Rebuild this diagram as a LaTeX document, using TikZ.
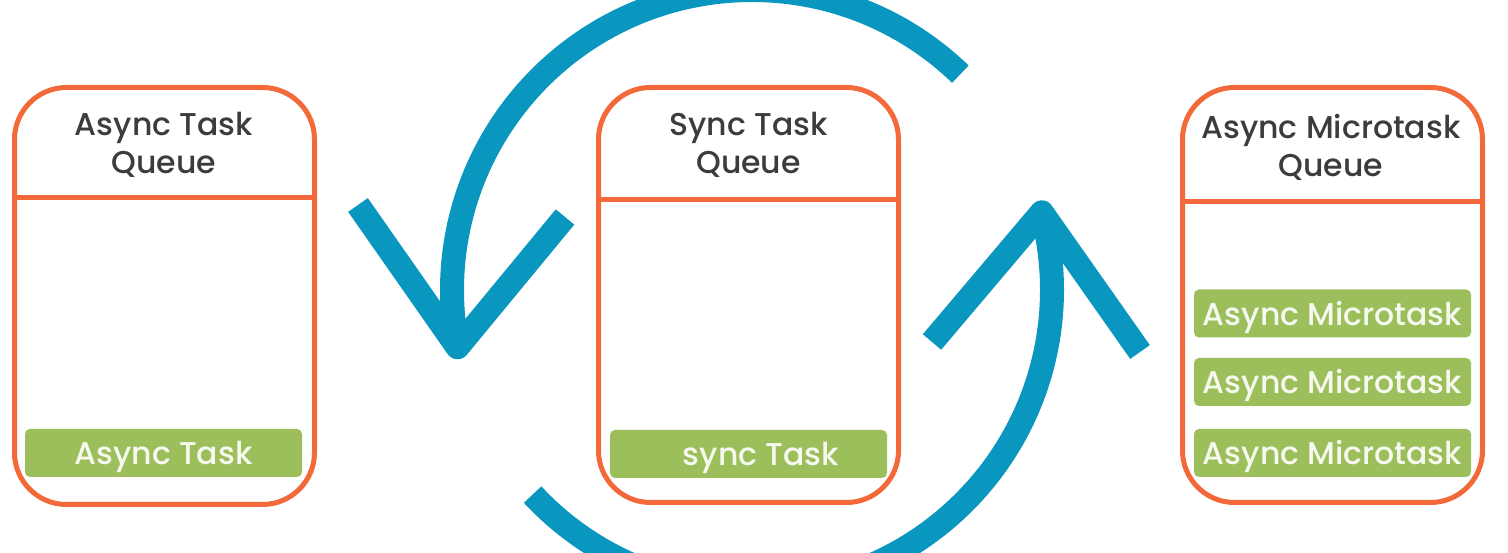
\documentclass[tikz,border=0pt]{standalone}
\usepackage{fontspec}
\setmainfont{Poppins}[UprightFont=* Medium]
\usetikzlibrary{calc}
\definecolor{qorange}{HTML}{F3693A}
\definecolor{qgreen}{HTML}{9CBF5B}
\definecolor{qblue}{HTML}{0997BF}
\definecolor{qtext}{HTML}{3C3C3C}
\definecolor{qbartext}{HTML}{F6F9EF}
\tikzset{
  qbox/.style={draw=qorange, line width=5pt, rounded corners=52pt, inner sep=0pt, minimum width=300pt},
  qline/.style={draw=qorange, line width=5pt},
  qhead/.style={text=qtext, anchor=base, inner sep=0pt, font=\fontsize{31.5}{38}\selectfont},
  qbar/.style={fill=qgreen, rounded corners=5pt, inner sep=0pt, minimum width=277pt, minimum height=48pt,
    text=qbartext, text height=24pt, text depth=0pt, font=\fontsize{31.5}{38}\selectfont},
  qloop/.style={draw=qblue, line width=24pt, line cap=butt},
  qtip/.style={draw=qblue, line width=24pt, line cap=butt, line join=round}
}
\begin{document}
\begin{tikzpicture}[x=1pt,y=1pt]
\useasboundingbox (0,0) rectangle (1508,553);
% blue loop
\coordinate (C) at (752,263);
\draw[qloop] ($(C)+(46:300)$) arc[start angle=46, end angle=191, radius=300] coordinate (tipA);
\coordinate (armA1) at (358,348);
\coordinate (armA2) at (565,336);
\draw[qtip] (armA1) -- (tipA) -- (armA2);
\draw[qloop] ($(C)+(223:300)$) arc[start angle=223, end angle=375, radius=300] coordinate (tipB);
\coordinate (armB1) at (932,211);
\coordinate (armB2) at (1140,201);
\draw[qtip] (armB1) -- (tipB) -- (armB2);
% left box
\node[qbox, fill=white, minimum height=417pt] (L) at (164.5,257) {};
\draw[qline] (L.west |- 0,355) coordinate (Ld1) -- (L.east |- 0,355) coordinate (Ld2);
\node[qhead] (Lh1) at (164,417) {Async Task};
\node[qhead] (Lh2) at (164,379) {Queue};
\node[qbar] (Lb) at (163.5,100) {Async Task};
% middle box
\node[qbox, fill=white, minimum height=415pt] (M) at (748.5,258) {};
\draw[qline] (M.west |- 0,353) coordinate (Md1) -- (M.east |- 0,353) coordinate (Md2);
\node[qhead] (Mh1) at (748.5,417) {Sync Task};
\node[qhead] (Mh2) at (748.5,379) {Queue};
\node[qbar] (Mb) at (748.5,99) {\hspace*{25pt}sync Task};
% right box
\node[qbox, fill=white, minimum height=415pt] (R) at (1332.5,258) {};
\draw[qline] (R.west |- 0,351) coordinate (Rd1) -- (R.east |- 0,351) coordinate (Rd2);
\node[qhead] (Rh1) at (1331,414) {Async Microtask};
\node[qhead] (Rh2) at (1331,376) {Queue};
\node[qbar] (Rb1) at (1332.5,239.5) {Async Microtask};
\node[qbar] (Rb2) at (1332.5,171) {Async Microtask};
\node[qbar] (Rb3) at (1332.5,100) {Async Microtask};
\end{tikzpicture}
\end{document}
